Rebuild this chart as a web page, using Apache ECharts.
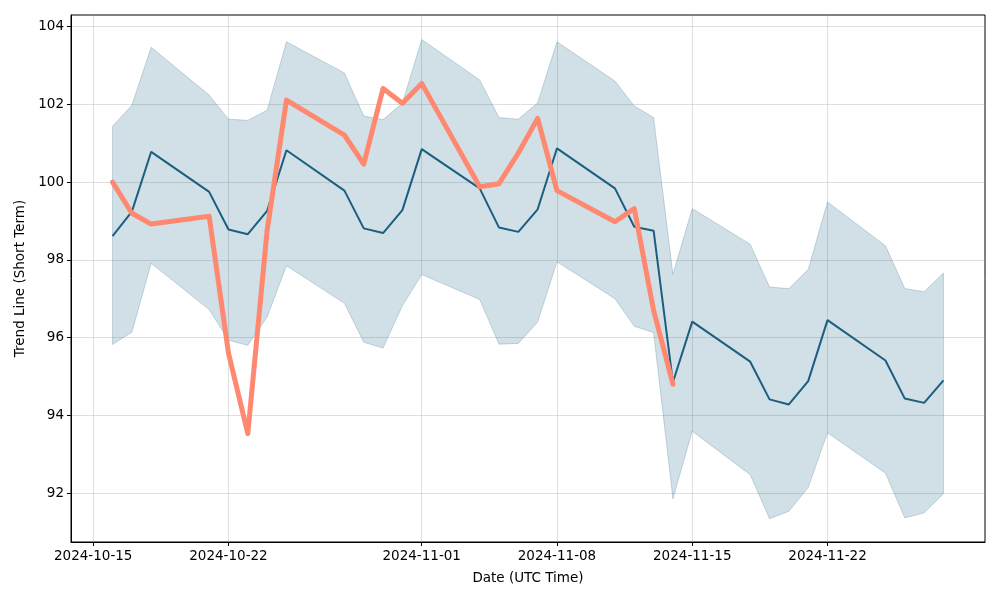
<!DOCTYPE html>
<html>
<head>
<meta charset="utf-8">
<script src="https://cdn.jsdelivr.net/npm/echarts@6/dist/echarts.min.js"></script>
<style>html,body{margin:0;padding:0;background:#fff}#c{width:1000px;height:600px}</style>
</head>
<body>
<div id="c"></div>
<script>
const dates = ['2024-10-16','2024-10-17','2024-10-18','2024-10-21','2024-10-22','2024-10-23','2024-10-24','2024-10-25','2024-10-28','2024-10-29','2024-10-30','2024-10-31','2024-11-01','2024-11-04','2024-11-05','2024-11-06','2024-11-07','2024-11-08','2024-11-11','2024-11-12','2024-11-13','2024-11-14','2024-11-15','2024-11-18','2024-11-19','2024-11-20','2024-11-21','2024-11-22','2024-11-25','2024-11-26','2024-11-27','2024-11-28'];
const trend = [98.61,99.24,100.78,99.75,98.78,98.66,99.26,100.82,99.78,98.81,98.69,99.28,100.85,99.84,98.83,98.72,99.3,100.87,99.84,98.85,98.75,94.85,96.41,95.38,94.41,94.28,94.88,96.45,95.41,94.43,94.32,94.9];
const upper = [101.44,101.98,103.47,102.24,101.62,101.59,101.85,103.61,102.81,101.7,101.61,102.03,103.67,102.63,101.66,101.62,102.04,103.61,102.6,101.96,101.66,97.63,99.32,98.4,97.3,97.26,97.75,99.49,98.36,97.26,97.18,97.66];
const lower = [95.82,96.14,97.91,96.72,95.93,95.8,96.53,97.85,96.88,95.88,95.73,96.82,97.62,96.98,95.83,95.85,96.4,97.95,97.0,96.29,96.13,91.85,93.59,92.47,91.34,91.53,92.14,93.55,92.51,91.36,91.49,91.98];
const priceDates = ['2024-10-16','2024-10-17','2024-10-18','2024-10-21','2024-10-22','2024-10-23','2024-10-24','2024-10-25','2024-10-28','2024-10-29','2024-10-30','2024-10-31','2024-11-01','2024-11-04','2024-11-05','2024-11-06','2024-11-07','2024-11-08','2024-11-11','2024-11-12','2024-11-13','2024-11-14'];
const price = [100.0,99.2,98.92,99.12,95.6,93.53,98.76,102.11,101.21,100.46,102.41,102.03,102.54,99.88,99.96,100.75,101.64,99.78,98.98,99.32,96.7,94.8];
const xTickLabels = ['2024-10-15','2024-10-22','2024-11-01','2024-11-08','2024-11-15','2024-11-22'];
const yTickLabels = [92,94,96,98,100,102,104];

const ts = d => { const p = d.split('-').map(Number); return Date.UTC(p[0], p[1]-1, p[2]); };
const pad = n => (n < 10 ? '0' : '') + n;
const fmt = v => { const d = new Date(v); return d.getUTCFullYear() + '-' + pad(d.getUTCMonth()+1) + '-' + pad(d.getUTCDate()); };
const DAY = 86400000;
const xMin = ts('2024-10-16') - 2.15 * DAY;
const xMax = ts('2024-11-28') + 2.15 * DAY;
const xTicks = xTickLabels.map(ts);

const font = 'DejaVu Sans';
const gridColor = 'rgba(176,176,176,0.4)';
const chart = echarts.init(document.getElementById('c'), null, {renderer: 'canvas'});
chart.setOption({
  animation: false,
  backgroundColor: '#fff',
  grid: {left: 71, right: 15, top: 15, bottom: 58, show: true, borderColor: '#000', borderWidth: 1, backgroundColor: 'transparent'},
  xAxis: {
    type: 'value', min: xMin, max: xMax,
    name: 'Date (UTC Time)', nameLocation: 'middle', nameGap: 29,
    nameTextStyle: {fontFamily: font, fontSize: 13.5, color: '#000'},
    axisLine: {show: true, onZero: false, lineStyle: {color: '#000', width: 1}},
    axisTick: {show: true, length: 4, lineStyle: {color: '#000'}, customValues: xTicks},
    axisLabel: {fontFamily: font, fontSize: 13.5, color: '#000', margin: 7, customValues: xTicks, formatter: v => fmt(v)},
    splitLine: {show: true, lineStyle: {color: gridColor, width: 1}}
  },
  yAxis: {
    type: 'value', min: 90.74, max: 104.3,
    name: 'Trend Line (Short Term)', nameLocation: 'middle', nameGap: 40,
    nameTextStyle: {fontFamily: font, fontSize: 13.5, color: '#000'},
    axisLine: {show: true, lineStyle: {color: '#000', width: 1}},
    axisTick: {show: true, length: 4, lineStyle: {color: '#000'}, customValues: yTickLabels},
    axisLabel: {fontFamily: font, fontSize: 13.5, color: '#000', margin: 7, customValues: yTickLabels, formatter: v => String(Math.round(v))},
    splitLine: {show: true, lineStyle: {color: gridColor, width: 1}}
  },
  series: [
    {
      type: 'custom', name: 'band', z: 1,
      data: dates.map((d, i) => [ts(d), lower[i], upper[i]]),
      renderItem: function (params, api) {
        if (params.dataIndex !== 0) return null;
        const up = [], lo = [];
        for (let i = 0; i < dates.length; i++) {
          up.push(api.coord([ts(dates[i]), upper[i]]));
          lo.push(api.coord([ts(dates[i]), lower[i]]));
        }
        const pts = up.concat(lo.reverse());
        return {
          type: 'polygon',
          shape: {points: pts},
          style: {fill: 'rgba(27,94,128,0.2)', stroke: 'rgba(27,94,128,0.22)', lineWidth: 1}
        };
      },
      encode: {x: 0, y: [1, 2]},
      silent: true
    },
    {
      type: 'line', name: 'trend', symbol: 'none',
      data: dates.map((d, i) => [ts(d), trend[i]]),
      lineStyle: {color: '#1b5e80', width: 2}, z: 3
    },
    {
      type: 'line', name: 'price', symbol: 'none',
      data: priceDates.map((d, i) => [ts(d), price[i]]),
      lineStyle: {color: '#ff8870', width: 5, cap: 'round', join: 'round'}, z: 4
    }
  ]
});
</script>
</body>
</html>
